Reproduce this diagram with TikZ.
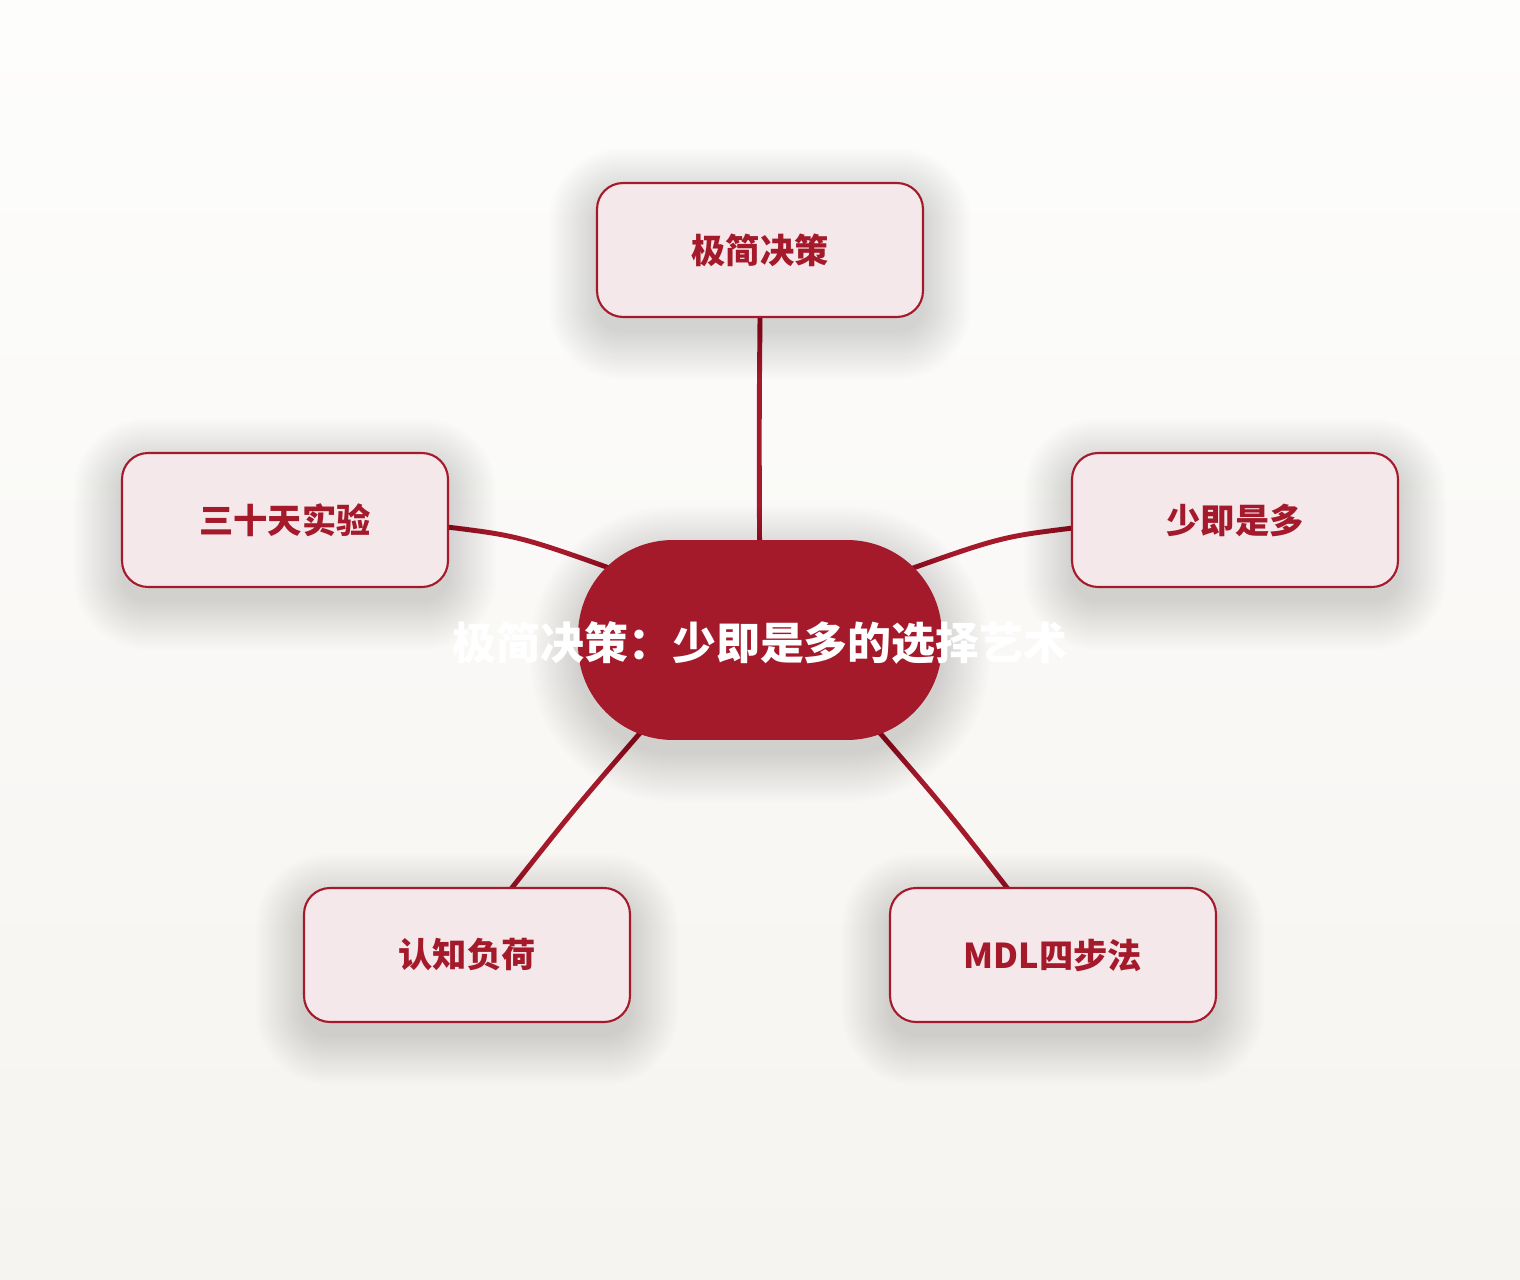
\documentclass[tikz,border=0pt]{standalone}
\usepackage{fontspec}
\setmainfont{Noto Sans CJK SC}
\usetikzlibrary{calc}
\definecolor{darkred}{HTML}{A41A2B}
\definecolor{pinkfill}{HTML}{F5E8EB}
\definecolor{bgtop}{HTML}{FDFDFC}
\definecolor{bgbot}{HTML}{F6F4F0}
\pgfdeclarelayer{back}
\pgfdeclarelayer{links}
\pgfdeclarelayer{shadows}
\pgfsetlayers{back,links,shadows,main}
\tikzset{
  leaf/.style={draw=darkred, line width=1.2pt, fill=pinkfill, rounded corners=0.52cm,
    minimum width=6.52cm, minimum height=2.68cm, inner sep=0pt,
    text=darkred, font=\fontsize{19.5}{23}\selectfont\bfseries},
  hub/.style={fill=darkred, rounded corners=1.9cm, minimum width=7.28cm, minimum height=4cm,
    inner sep=0pt},
  hubtext/.style={text=white, font=\fontsize{25}{30}\selectfont\bfseries, inner sep=0pt},
  link/.style={draw=darkred, line width=2.8pt, line cap=round},
  shadowlayer/.style={fill=black, opacity=#1},
  shadowlayer/.default=0.008
}
\newcommand\castshadow[3]{%
  \foreach \i in {0,...,19} {
    \fill[shadowlayer=#3, rounded corners={#2+\i*0.05cm}]
      ($(#1.south west)+(-\i*2.5, 14+\i*2.5)$) rectangle ($(#1.north east)+(\i*2.5, 14-\i*2.5)$);
  }%
}
\begin{document}
\begin{tikzpicture}[x=0.02cm, y=-0.02cm]
\useasboundingbox (0,0) rectangle (1520,1280);
\begin{pgfonlayer}{back}
  \shade[top color=bgtop, bottom color=bgbot] (0,0) rectangle (1520,1280);
\end{pgfonlayer}
\node[hub] (c) at (760,640) {};
\node[leaf] (t) at (760,250) {极简决策};
\node[leaf] (l) at (285,520) {三十天实验};
\node[leaf] (r) at (1235,520) {少即是多};
\node[leaf] (bl) at (467,955) {认知负荷};
\node[leaf] (br) at (1053,955) {MDL四步法};
\begin{pgfonlayer}{shadows}
  \castshadow{c}{1.9cm}{0.0095}
  \castshadow{t}{0.52cm}{0.0075}
  \castshadow{l}{0.52cm}{0.0075}
  \castshadow{r}{0.52cm}{0.0075}
  \castshadow{bl}{0.52cm}{0.0075}
  \castshadow{br}{0.52cm}{0.0075}
\end{pgfonlayer}
\node[hubtext] (ct) at (760,643) {极简决策：少即是多的选择艺术};
\begin{pgfonlayer}{links}
  \draw[link] (t.south) .. controls ($(t.south)+(-1,110)$) .. (c.center);
  \draw[link] ($(l.east)+(-2,7)$) .. controls (520,536) .. ($(c.center)+(-120,-61)$);
  \draw[link] ($(r.west)+(2,8)$) .. controls (1000,537) .. ($(c.center)+(125,-62)$);
  \draw[link] ($(bl.north)+(44,2)$) .. controls (575,808) .. ($(c.center)+(-100,70)$);
  \draw[link] ($(br.north)+(-45,2)$) .. controls (945,808) .. ($(c.center)+(100,70)$);
\end{pgfonlayer}
\end{tikzpicture}
\end{document}
